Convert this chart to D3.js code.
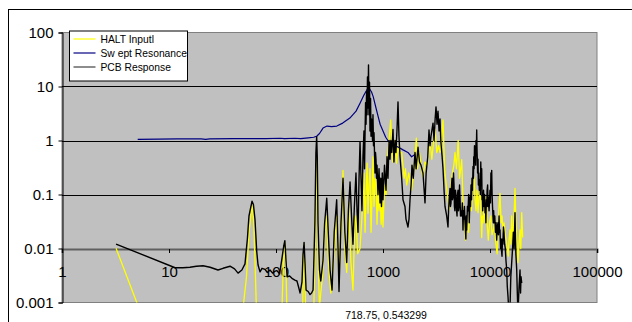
<!DOCTYPE html>
<html>
<head>
<meta charset="utf-8">
<script src="https://cdn.jsdelivr.net/npm/d3@7"></script>
<style>
  html, body { margin: 0; padding: 0; background: #fff; }
  svg { display: block; font-family: Arial, "Liberation Sans", sans-serif; }
</style>
</head>
<body>
<div id="app"></div>
<script>
// tick values on both log axes
const xTicks = [1, 10, 100, 1000, 10000, 100000]
const yTicks = [0.001, 0.01, 0.1, 1, 10, 100]
const seriesNames = ['HALT Inputl', 'Sw ept Resonance', 'PCB Response']
const cursorLabel = '718.75, 0.543299'

// [frequency, amplitude]
const haltInput = [
  [3.2, 0.0101], [5.0, 0.001], [5.6, 0.0006], [48, 0.0005], [53, 0.003], [56, 0.02], [59.7, 0.065], [62, 0.03],
  [64, 0.004], [66, 0.0005], [113, 0.0005], [117, 0.005], [121, 0.013], [124, 0.004], [127, 0.0005],
  [177, 0.0005], [180, 0.004], [183, 0.012], [186, 0.003], [190, 0.0005], [225, 0.0005], [232, 0.02],
  [240, 0.5], [244, 0.08], [248, 0.005], [255, 0.0008], [262, 0.0015], [272, 0.003], [285, 0.02], [298, 0.04],
  [310, 0.005], [325, 0.0015], [340, 0.004], [369, 0.04], [388, 0.0025], [408, 0.03], [423, 0.28], [440, 0.01],
  [458, 0.0036], [478, 0.07], [500, 0.006], [524, 0.0017], [545, 0.03], [559, 0.04], [580, 0.008], [610, 0.01],
  [636, 0.04], [664, 0.25], [680, 0.02], [694, 0.1], [710, 0.38], [724, 0.045], [740, 0.15], [756, 0.3],
  [773, 0.02], [790, 0.09], [806, 0.5], [824, 0.06], [842, 0.2], [860, 0.17], [879, 0.028], [898, 0.12],
  [918, 0.05], [940, 0.11], [960, 0.028], [985, 0.07], [1000, 0.025], [1033, 0.15], [1067, 0.1], [1090, 0.38],
  [1140, 1.0], [1180, 2.4], [1206, 0.8], [1230, 0.4], [1265, 0.7], [1295, 1.0], [1337, 0.38], [1381, 0.8],
  [1420, 0.6], [1495, 0.6], [1575, 0.2], [1620, 0.3], [1665, 0.15], [1740, 0.25], [1850, 0.12], [1950, 0.3],
  [2050, 1.1], [2100, 0.3], [2193, 0.6], [2270, 0.35], [2365, 0.21], [2469, 0.4], [2578, 0.35], [2650, 0.5],
  [2750, 1.0], [2860, 0.45], [2960, 0.9], [3070, 1.6], [3180, 0.6], [3300, 0.8], [3410, 0.6], [3530, 1.2],
  [3640, 2.4], [3760, 0.3], [3900, 0.15], [4050, 0.08], [4180, 0.052], [4300, 0.15], [4450, 0.25], [4600, 0.35],
  [4710, 0.6], [4860, 0.3], [5040, 1.0], [5200, 0.2], [5440, 0.44], [5640, 0.046], [5910, 0.0143], [6100, 0.03],
  [6300, 0.02], [6505, 0.09], [6700, 0.05], [6900, 0.12], [7100, 0.21], [7250, 0.08], [7400, 0.05], [7560, 0.12],
  [7727, 0.046], [7900, 0.09], [8064, 0.15], [8200, 0.05], [8365, 0.016], [8480, 0.04], [8600, 0.03],
  [8800, 0.06], [9000, 0.03], [9200, 0.09], [9400, 0.03], [9640, 0.0143], [9900, 0.03], [10150, 0.04],
  [10450, 0.018], [10740, 0.022], [11000, 0.03], [11300, 0.013], [11660, 0.008], [12000, 0.04], [12400, 0.105],
  [12700, 0.03], [12950, 0.04], [13200, 0.02], [13510, 0.03], [13900, 0.018], [14330, 0.012], [14800, 0.0072],
  [15100, 0.015], [15380, 0.022], [15650, 0.012], [15950, 0.04], [16250, 0.015], [16520, 0.022], [16850, 0.05],
  [17130, 0.13], [17450, 0.03], [17770, 0.0143], [18270, 0.0055], [18650, 0.012], [19080, 0.022], [19400, 0.01],
  [19790, 0.046], [20210, 0.016]
]

const sweptResonance = [
  [5.1, 1.05], [8, 1.06], [12, 1.07], [20, 1.07], [22, 1.05], [24, 1.07], [40, 1.08], [80, 1.08], [110, 1.1],
  [120, 1.08], [150, 1.1], [170, 1.08], [200, 1.12], [225, 1.15], [240, 1.2], [255, 1.35], [275, 1.7],
  [300, 1.85], [330, 1.8], [370, 1.85], [420, 2.1], [490, 2.6], [560, 3.5], [610, 4.9], [660, 6.8], [710, 8.8],
  [740, 9.3], [780, 8.0], [810, 6.5], [860, 4.0], [900, 2.8], [940, 2.0], [1000, 1.5], [1060, 1.15],
  [1110, 1.0], [1200, 0.85], [1300, 0.78], [1380, 0.76], [1540, 0.67], [1710, 0.6], [1850, 0.5], [1990, 0.55]
]

const pcbResponse = [
  [3.2, 0.0121], [11.4, 0.0044], [13.5, 0.0044], [15.7, 0.0045], [18, 0.0047], [20.8, 0.0048], [24.2, 0.0045],
  [28.7, 0.004], [32, 0.0043], [37.2, 0.0047], [41, 0.0042], [44.2, 0.0035], [48, 0.004], [51.3, 0.0052],
  [54, 0.015], [55.9, 0.04], [59.7, 0.075], [61.5, 0.065], [63.6, 0.035], [66, 0.009], [67.9, 0.005],
  [70.9, 0.0037], [74, 0.0043], [78.9, 0.0041], [83, 0.0036], [87.9, 0.004], [93, 0.0035], [97.9, 0.0038],
  [102, 0.0039], [108, 0.0034], [114, 0.0068], [118, 0.011], [121, 0.014], [124, 0.006], [127, 0.003],
  [134, 0.0031], [141, 0.0028], [150, 0.0026], [157, 0.0025], [163, 0.0019], [168, 0.0015], [175, 0.0024],
  [179, 0.008], [183, 0.013], [187, 0.005], [191, 0.0017], [200, 0.0016], [208, 0.0014], [215, 0.0015],
  [222, 0.0017], [231, 0.03], [236, 0.6], [240, 1.17], [243, 0.5], [247, 0.03], [255, 0.004], [262, 0.0025],
  [275, 0.006], [285, 0.03], [298, 0.085], [308, 0.02], [320, 0.004], [334, 0.0017], [350, 0.02], [369, 0.08],
  [380, 0.01], [388, 0.0016], [405, 0.03], [423, 0.2], [440, 0.02], [458, 0.0055], [475, 0.05], [492, 0.17],
  [508, 0.04], [524, 0.012], [540, 0.06], [559, 0.25], [572, 0.05], [584, 0.02], [597, 0.2], [610, 0.95],
  [623, 0.2], [636, 0.05], [650, 0.5], [664, 1.5], [672, 0.3], [679, 1.2], [687, 5], [694, 2], [702, 8],
  [709, 3], [716, 15], [724, 4], [732, 25], [740, 3], [748, 12], [756, 1.5], [765, 6], [773, 1.2], [781, 2.5],
  [789, 2.1], [798, 1.0], [806, 3], [815, 0.8], [824, 1.4], [842, 0.25], [851, 0.6], [860, 0.45], [870, 0.2],
  [879, 0.35], [898, 0.1], [918, 0.3], [938, 0.07], [953, 0.2], [968, 0.06], [985, 0.25], [1000, 0.08],
  [1033, 0.35], [1067, 0.12], [1090, 0.5], [1113, 0.2], [1140, 1.0], [1162, 0.45], [1184, 1.0], [1206, 0.6],
  [1240, 1.6], [1265, 0.4], [1295, 1.0], [1320, 0.6], [1350, 1.5], [1381, 5.2], [1410, 1.2], [1442, 0.5],
  [1495, 0.2], [1538, 0.08], [1605, 0.06], [1640, 0.035], [1712, 0.025], [1750, 0.035], [1788, 0.08],
  [1830, 0.15], [1866, 0.35], [1919, 0.2], [1991, 0.6], [2040, 0.3], [2124, 0.75], [2193, 0.4], [2265, 0.35],
  [2365, 0.25], [2469, 0.07], [2530, 0.25], [2620, 0.5], [2691, 1.57], [2750, 0.8], [2810, 1.2], [2934, 2.1],
  [3000, 1.0], [3070, 2.5], [3129, 4.2], [3200, 2.0], [3266, 3.5], [3340, 1.5], [3410, 2.5], [3480, 0.9],
  [3570, 0.5], [3637, 0.3], [3720, 0.12], [3797, 0.06], [3938, 0.04], [4050, 0.025], [4100, 0.05],
  [4150, 0.08], [4229, 0.13], [4270, 0.06], [4320, 0.07], [4370, 0.15], [4415, 0.2], [4460, 0.08],
  [4510, 0.09], [4560, 0.25], [4609, 0.15], [4650, 0.06], [4700, 0.05], [4760, 0.12], [4812, 0.09],
  [4870, 0.05], [4920, 0.04], [4970, 0.1], [5024, 0.12], [5080, 0.05], [5130, 0.06], [5190, 0.15],
  [5245, 0.09], [5300, 0.04], [5350, 0.05], [5440, 0.04], [5520, 0.07], [5594, 0.022], [5650, 0.05],
  [5700, 0.035], [5770, 0.06], [5840, 0.03], [5950, 0.015], [6000, 0.04], [6057, 0.022], [6150, 0.06],
  [6230, 0.05], [6320, 0.1], [6400, 0.03], [6505, 0.09], [6580, 0.06], [6650, 0.15], [6720, 0.08],
  [6791, 0.2], [6860, 0.12], [6938, 0.33], [7000, 0.2], [7050, 0.5], [7100, 0.3], [7164, 0.8], [7230, 0.4],
  [7300, 0.6], [7350, 0.35], [7400, 1.0], [7450, 0.6], [7511, 1.57], [7560, 0.7], [7600, 0.5], [7660, 0.25],
  [7727, 0.45], [7790, 0.15], [7850, 0.25], [7950, 0.12], [8064, 0.19], [8130, 0.1], [8200, 0.4], [8280, 0.15],
  [8365, 0.3], [8430, 0.08], [8500, 0.1], [8550, 0.05], [8603, 0.08], [8700, 0.12], [8800, 0.06], [8900, 0.1],
  [8981, 0.046], [9060, 0.07], [9150, 0.03], [9230, 0.08], [9316, 0.06], [9400, 0.12], [9500, 0.15],
  [9600, 0.06], [9683, 0.09], [9800, 0.05], [10000, 0.12], [10100, 0.07], [10200, 0.25], [10290, 0.1],
  [10373, 0.28], [10460, 0.1], [10560, 0.06], [10650, 0.04], [10740, 0.03], [10820, 0.05], [10900, 0.03],
  [11080, 0.04], [11250, 0.02], [11400, 0.03], [11550, 0.0143], [11700, 0.025], [11880, 0.03], [12000, 0.018],
  [12150, 0.04], [12270, 0.02], [12400, 0.022], [12550, 0.01], [12700, 0.015], [12820, 0.009], [12950, 0.0072],
  [13080, 0.015], [13200, 0.012], [13350, 0.025], [13510, 0.02], [13700, 0.012], [13900, 0.01], [14100, 0.006],
  [14330, 0.004], [14500, 0.002], [14730, 0.0013], [15050, 0.0006], [15380, 0.0008], [15650, 0.003],
  [15950, 0.0055], [16250, 0.01], [16520, 0.02], [16800, 0.01], [17130, 0.046], [17300, 0.015],
  [17450, 0.008], [17770, 0.004], [18000, 0.0015], [18270, 0.0006], [18500, 0.0012], [18700, 0.002],
  [19080, 0.004], [19300, 0.0015], [19500, 0.003], [19790, 0.0023]
]

const seriesColors = ['#ffff00', '#000080', '#000000']
const seriesWidths = [1.3, 1.2, 1.4]
const seriesData = [haltInput, sweptResonance, pcbResponse]

const W = 632
const H = 322
const plot = { left: 62, right: 597, top: 32.5, bottom: 302.5 }

const svg = d3.select('#app').append('svg').attr('width', W).attr('height', H)

// outer chart frame (runs off the right/bottom edge like the screenshot)
svg.append('rect')
  .attr('x', 8.5).attr('y', 9.5)
  .attr('width', 700).attr('height', 400)
  .attr('fill', '#fff').attr('stroke', '#000')

const x = d3.scaleLog().domain([1, 100000]).range([plot.left, plot.right])
const y = d3.scaleLog().domain([0.001, 100]).range([plot.bottom, plot.top])

// plot area
svg.append('rect')
  .attr('x', plot.left).attr('y', plot.top)
  .attr('width', plot.right - plot.left).attr('height', plot.bottom - plot.top)
  .attr('fill', '#c0c0c0').attr('stroke', '#808080')

// horizontal gridlines
svg.append('g')
  .selectAll('line')
  .data(yTicks.filter((d) => d > 0.01 && d < 100))
  .join('line')
  .attr('x1', plot.left).attr('x2', plot.right)
  .attr('y1', (d) => Math.round(y(d)) + 0.5).attr('y2', (d) => Math.round(y(d)) + 0.5)
  .attr('stroke', '#000').attr('stroke-width', 1)

svg.append('defs').append('clipPath').attr('id', 'clip')
  .append('rect')
  .attr('x', plot.left).attr('y', plot.top)
  .attr('width', plot.right - plot.left).attr('height', plot.bottom - plot.top)

// x axis crosses at 0.01
const xAxisY = Math.round(y(0.01))
const xAxis = svg.append('g')
  .attr('transform', `translate(0,${xAxisY})`)
  .call(d3.axisBottom(x).tickValues(xTicks).tickFormat(d3.format('d')).tickSize(4).tickPadding(13))
xAxis.select('.domain').attr('stroke', '#606060').attr('stroke-width', 2)
xAxis.selectAll('.tick line').attr('stroke', '#000')
xAxis.selectAll('.tick text').attr('font-size', 15).attr('fill', '#000')
  .attr('font-family', 'Arial, "Liberation Sans", sans-serif')

// lines
const line = d3.line().x((d) => x(d[0])).y((d) => y(d[1]))
svg.append('g')
  .attr('clip-path', 'url(#clip)')
  .selectAll('path')
  .data(seriesData)
  .join('path')
  .attr('d', line)
  .attr('fill', 'none')
  .attr('stroke', (d, i) => seriesColors[i])
  .attr('stroke-width', (d, i) => seriesWidths[i])
  .attr('stroke-linejoin', 'round')

// y axis
const yAxis = svg.append('g')
  .attr('transform', `translate(${plot.left + 0.5},0)`)
  .call(d3.axisLeft(y).tickValues(yTicks).tickFormat((d) => String(d)).tickSize(4).tickPadding(5))
yAxis.select('.domain').attr('stroke', '#000')
yAxis.selectAll('.tick line').attr('stroke', '#000')
yAxis.selectAll('.tick text').attr('font-size', 15).attr('fill', '#000')
  .attr('font-family', 'Arial, "Liberation Sans", sans-serif')

// legend
const legend = svg.append('g').attr('transform', 'translate(69.5,31)')
legend.append('rect').attr('width', 118).attr('height', 50).attr('fill', '#fff').attr('stroke', '#000')
const item = legend.selectAll('g.item')
  .data(seriesNames)
  .join('g')
  .attr('class', 'item')
  .attr('transform', (d, i) => `translate(0,${8 + i * 14})`)
item.append('line')
  .attr('x1', 4).attr('x2', 26)
  .attr('stroke', (d, i) => (i === 2 ? '#404040' : seriesColors[i]))
  .attr('stroke-width', 1.2)
item.append('text')
  .attr('x', 31).attr('y', 3.5)
  .attr('font-size', 10.3)
  .text((d) => d)

svg.append('text')
  .attr('x', 386).attr('y', 319)
  .attr('text-anchor', 'middle')
  .attr('font-size', 10.5)
  .text(cursorLabel)
</script>
</body>
</html>
